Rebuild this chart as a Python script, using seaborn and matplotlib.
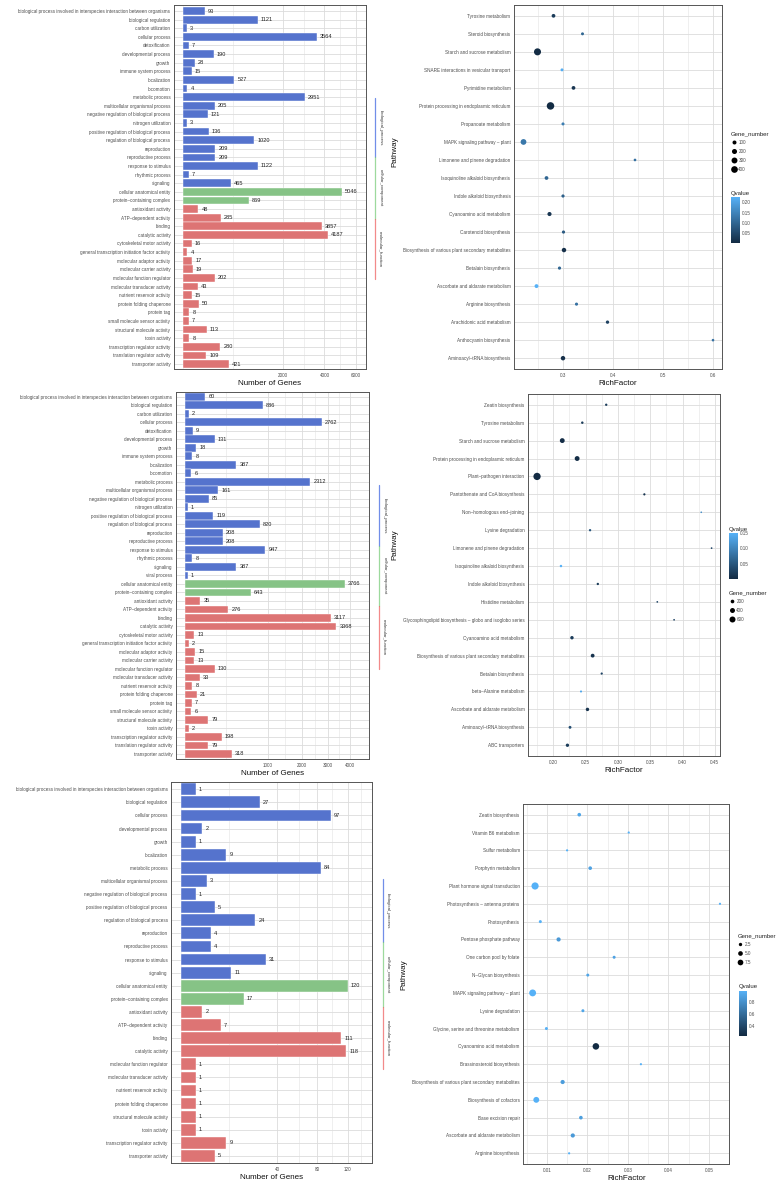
import numpy as np
import pandas as pd
import matplotlib
matplotlib.use("Agg")
import matplotlib.pyplot as plt
import seaborn as sns
from matplotlib.colors import LinearSegmentedColormap, Normalize
from matplotlib.cm import ScalarMappable
from matplotlib.lines import Line2D

W, H, DPI = 779, 1185, 100

# ---------------- GO term lists ----------------
BP_TERMS = [
    "biological process involved in interspecies interaction between organisms",
    "biological regulation", "carbon utilization", "cellular process", "detoxification",
    "developmental process", "growth", "immune system process", "localization", "locomotion",
    "metabolic process", "multicellular organismal process",
    "negative regulation of biological process", "nitrogen utilization",
    "positive regulation of biological process", "regulation of biological process",
    "reproduction", "reproductive process", "response to stimulus", "rhythmic process",
    "signaling", "viral process",
]
CC_TERMS = ["cellular anatomical entity", "protein–containing complex"]
MF_TERMS = [
    "antioxidant activity", "ATP–dependent activity", "binding", "catalytic activity",
    "cytoskeletal motor activity", "general transcription initiation factor activity",
    "molecular adaptor activity", "molecular carrier activity", "molecular function regulator",
    "molecular transducer activity", "nutrient reservoir activity", "protein folding chaperone",
    "protein tag", "small molecule sensor activity", "structural molecule activity",
    "toxin activity", "transcription regulator activity", "translation regulator activity",
    "transporter activity",
]

# GO panel 1
go1_terms = [t for t in BP_TERMS if t != "viral process"] + CC_TERMS + MF_TERMS
go1_counts = [93, 1121, 3, 3564, 7, 190, 28, 15, 527, 4, 2951, 205, 121, 3, 136, 1020,
              209, 209, 1122, 7, 465,
              5046, 869,
              48, 285, 3857, 4187, 16, 4, 17, 19, 202, 43, 15, 50, 8, 7, 113, 8, 280, 109, 421]

# GO panel 2
go2_terms = BP_TERMS + CC_TERMS + MF_TERMS
go2_counts = [60, 886, 2, 2762, 9, 131, 18, 8, 387, 6, 2312, 161, 85, 1, 119, 820,
              208, 208, 947, 8, 387, 1,
              3766, 643,
              35, 276, 3117, 3368, 13, 2, 15, 13, 130, 33, 8, 21, 7, 6, 79, 2, 198, 79, 318]

# GO panel 3
go3_terms = [
    "biological process involved in interspecies interaction between organisms",
    "biological regulation", "cellular process", "developmental process", "growth",
    "localization", "metabolic process", "multicellular organismal process",
    "negative regulation of biological process", "positive regulation of biological process",
    "regulation of biological process", "reproduction", "reproductive process",
    "response to stimulus", "signaling",
    "cellular anatomical entity", "protein–containing complex",
    "antioxidant activity", "ATP–dependent activity", "binding", "catalytic activity",
    "molecular function regulator", "molecular transducer activity",
    "nutrient reservoir activity", "protein folding chaperone", "structural molecule activity",
    "toxin activity", "transcription regulator activity", "transporter activity",
]
go3_counts = [1, 27, 97, 2, 1, 9, 84, 3, 1, 5, 24, 4, 4, 31, 11,
              120, 17,
              2, 7, 111, 118, 1, 1, 1, 1, 1, 1, 9, 5]

# ---------------- KEGG enrichment (top to bottom) ----------------
kegg1_pathway = [
    "Tyrosine metabolism", "Steroid biosynthesis", "Starch and sucrose metabolism",
    "SNARE interactions in vesicular transport", "Pyrimidine metabolism",
    "Protein processing in endoplasmic reticulum", "Propanoate metabolism",
    "MAPK signaling pathway – plant", "Limonene and pinene degradation",
    "Isoquinoline alkaloid biosynthesis", "Indole alkaloid biosynthesis",
    "Cyanoamino acid metabolism", "Carotenoid biosynthesis",
    "Biosynthesis of various plant secondary metabolites", "Betalain biosynthesis",
    "Ascorbate and aldarate metabolism", "Arginine biosynthesis",
    "Arachidonic acid metabolism", "Anthocyanin biosynthesis", "Aminoacyl–tRNA biosynthesis",
]
kegg1_rich = [0.281, 0.339, 0.249, 0.298, 0.321, 0.275, 0.300, 0.221, 0.444, 0.267,
              0.300, 0.273, 0.301, 0.302, 0.293, 0.247, 0.327, 0.389, 0.600, 0.300]
kegg1_genes = [80, 25, 450, 25, 80, 520, 30, 280, 8, 80, 40, 110, 40, 140, 40, 90, 35, 50, 5, 140]
kegg1_q = [0.03, 0.10, 0.002, 0.22, 0.02, 0.001, 0.14, 0.13, 0.12, 0.10,
           0.09, 0.02, 0.08, 0.01, 0.10, 0.227, 0.12, 0.04, 0.12, 0.01]

kegg2_pathway = [
    "Zeatin biosynthesis", "Tyrosine metabolism", "Starch and sucrose metabolism",
    "Protein processing in endoplasmic reticulum", "Plant–pathogen interaction",
    "Pantothenate and CoA biosynthesis", "Non–homologous end–joining", "Lysine degradation",
    "Limonene and pinene degradation", "Isoquinoline alkaloid biosynthesis",
    "Indole alkaloid biosynthesis", "Histidine metabolism",
    "Glycosphingolipid biosynthesis – globo and isoglobo series",
    "Cyanoamino acid metabolism", "Biosynthesis of various plant secondary metabolites",
    "Betalain biosynthesis", "beta–Alanine metabolism", "Ascorbate and aldarate metabolism",
    "Aminoacyl–tRNA biosynthesis", "ABC transporters",
]
kegg2_rich = [0.282, 0.245, 0.214, 0.237, 0.175, 0.341, 0.429, 0.257, 0.445, 0.212,
              0.269, 0.361, 0.387, 0.229, 0.261, 0.275, 0.243, 0.253, 0.226, 0.222]
kegg2_genes = [60, 70, 380, 380, 900, 50, 10, 60, 15, 70, 60, 15, 15, 170, 220, 50, 40, 170, 110, 160]
kegg2_q = [0.02, 0.02, 0.005, 0.004, 0.001, 0.01, 0.11, 0.05, 0.03, 0.15,
           0.02, 0.03, 0.03, 0.02, 0.01, 0.03, 0.14, 0.01, 0.04, 0.02]

kegg3_pathway = [
    "Zeatin biosynthesis", "Vitamin B6 metabolism", "Sulfur metabolism", "Porphyrin metabolism",
    "Plant hormone signal transduction", "Photosynthesis – antenna proteins", "Photosynthesis",
    "Pentose phosphate pathway", "One carbon pool by folate", "N–Glycan biosynthesis",
    "MAPK signaling pathway – plant", "Lysine degradation",
    "Glycine, serine and threonine metabolism", "Cyanoamino acid metabolism",
    "Brassinosteroid biosynthesis", "Biosynthesis of various plant secondary metabolites",
    "Biosynthesis of cofactors", "Base excision repair", "Ascorbate and aldarate metabolism",
    "Arginine biosynthesis",
]
kegg3_rich = [0.0180, 0.0302, 0.0150, 0.0207, 0.0071, 0.0527, 0.0084, 0.0129, 0.0266, 0.0201,
              0.0065, 0.0189, 0.0099, 0.0221, 0.0332, 0.0139, 0.0074, 0.0184, 0.0164, 0.0155]
kegg3_genes = [3, 1, 1, 3, 12, 1, 2, 4, 2, 2, 11, 2, 2, 10, 1, 4, 8, 3, 4, 1]
kegg3_q = [0.92, 0.98, 0.98, 0.90, 0.98, 0.98, 0.98, 0.85, 0.90, 0.92,
           0.98, 0.92, 0.98, 0.25, 0.98, 0.87, 0.98, 0.88, 0.85, 0.98]

# ---------------- style ----------------
sns.set_theme(style="white")
plt.rcParams["font.family"] = ["Liberation Sans", "DejaVu Sans"]

GO_COLORS = {"biological_process": "#4169E1", "cellular_component": "#7CCD7C",
             "molecular_function": "#EE6363"}
ONTOLOGIES = list(GO_COLORS)
Q_CMAP = LinearSegmentedColormap.from_list("gg_blues", ["#132B43", "#56B1F7"])
TXT = "#4D4D4D"
GRID = "#DCDCDC"


def ontology_of(term):
    if term in BP_TERMS:
        return "biological_process"
    if term in CC_TERMS:
        return "cellular_component"
    return "molecular_function"


def px_rect(x0, y0, x1, y1):
    return [x0 / W, 1 - y1 / H, (x1 - x0) / W, (y1 - y0) / H]


def sqrt_fwd(x):
    x = np.asarray(x, dtype=float)
    return np.sign(x) * np.sqrt(np.abs(x))


def sqrt_inv(x):
    x = np.asarray(x, dtype=float)
    return np.sign(x) * x ** 2


def style_panel(ax):
    for sp in ax.spines.values():
        sp.set_color("#555555")
        sp.set_linewidth(0.7)
    ax.tick_params(which="major", length=1.6, width=0.4, color="#333333",
                   labelsize=3.3, labelcolor=TXT, pad=1)
    ax.tick_params(which="minor", length=0)
    ax.grid(True, which="major", color=GRID, lw=0.6)
    ax.grid(True, which="minor", axis="x", color="#E4E4E4", lw=0.4)
    ax.set_axisbelow(True)


fig = plt.figure(figsize=(W / DPI, H / DPI), dpi=DPI)


def go_panel(terms, counts, box, xlim, xticks, xminor, pad_top, pad_bot, strip_x, strips):
    ax = fig.add_axes(px_rect(*box))
    df = pd.DataFrame({"term": terms, "count": counts,
                       "ontology": [ontology_of(t) for t in terms]})
    sns.barplot(data=df, x="count", y="term", hue="ontology", hue_order=ONTOLOGIES,
                palette=GO_COLORS, dodge=False, width=0.9, edgecolor="white",
                linewidth=0.3, legend=False, ax=ax)
    ax.set_xscale("function", functions=(sqrt_fwd, sqrt_inv))
    ax.set_xlim(*xlim)
    ax.set_ylim(len(terms) - 1 + pad_bot, -pad_top)
    ax.set_xticks(xticks)
    ax.set_xticks(xminor, minor=True)
    ax.set_xticklabels([str(t) for t in xticks])
    style_panel(ax)
    for cont in ax.containers:
        ax.bar_label(cont, fontsize=4.1, padding=2.2, color="#222222")
    ax.set_ylabel("")
    ax.set_xlabel("Number of Genes", fontsize=5.8, labelpad=1.5, color="#111111")
    # ontology strip on the right
    for name, y0, y1 in strips:
        fig.add_artist(Line2D([strip_x / W, strip_x / W], [1 - y0 / H, 1 - y1 / H],
                              color=GO_COLORS[name], alpha=0.75, lw=0.9))
        fig.text((strip_x + 5.5) / W, 1 - (y0 + y1) / 2 / H, name, rotation=270,
                 ha="center", va="center", fontsize=3.2, color="#333333")
    return ax


def kegg_panel(pathway, rich, genes, q, box, xlim, xticks, xminor, sizes, size_norm,
               size_values, size_labels, size_anchor, cbar_box, cbar_ticks, path_label_xy):
    ax = fig.add_axes(px_rect(*box))
    df = pd.DataFrame({"Pathway": pathway, "RichFactor": rich, "Gene_number": genes,
                       "Qvalue": q})
    q_norm = (min(q), max(q))
    sns.scatterplot(data=df, x="RichFactor", y="Pathway", hue="Qvalue", size="Gene_number",
                    palette=Q_CMAP, hue_norm=q_norm, sizes=sizes, size_norm=size_norm,
                    linewidth=0, legend=False, ax=ax, zorder=3)
    ax.set_xlim(*xlim)
    ax.set_ylim(len(pathway) - 0.4, -0.6)
    ax.set_xticks(xticks)
    ax.set_xticks(xminor, minor=True)
    ax.set_xticklabels([f"{t:.2f}".rstrip("0") if t >= 0.1 and len(xticks) < 5 else f"{t:.2f}"
                        for t in xticks])
    style_panel(ax)
    ax.set_ylabel("")
    ax.set_xlabel("RichFactor", fontsize=5.8, labelpad=1.5, color="#111111")
    fig.text(path_label_xy[0] / W, 1 - path_label_xy[1] / H, "Pathway", rotation=90,
             ha="center", va="center", fontsize=5.8, color="#111111")

    # size legend
    lo, hi = size_norm
    handles = [Line2D([], [], ls="", marker="o", color="black", markeredgewidth=0,
                      markersize=np.sqrt(sizes[0] + (v - lo) / (hi - lo) * (sizes[1] - sizes[0])))
               for v in size_values]
    leg = ax.legend(handles, size_labels, title="Gene_number", loc="upper left",
                    bbox_to_anchor=(size_anchor[0] / W, 1 - size_anchor[1] / H),
                    bbox_transform=fig.transFigure, frameon=False, fontsize=3.3,
                    title_fontsize=4.3, handlelength=1.2, handletextpad=0.4,
                    labelspacing=0.85, borderpad=0, borderaxespad=0)
    leg._legend_box.align = "left"
    for t in leg.get_texts():
        t.set_color(TXT)
    leg.get_title().set_color("#222222")

    # colour bar for Qvalue
    cax = fig.add_axes(px_rect(*cbar_box))
    cb = fig.colorbar(ScalarMappable(norm=Normalize(*q_norm), cmap=Q_CMAP), cax=cax)
    cb.outline.set_visible(False)
    cb.set_ticks(cbar_ticks)
    cb.ax.tick_params(length=1.8, width=0.4, color="white", direction="in",
                      labelsize=3.3, labelcolor=TXT, pad=1.5)
    fig.text(cbar_box[0] / W, 1 - (cbar_box[1] - 1.5) / H, "Qvalue", ha="left",
             va="bottom", fontsize=4.3, color="#222222")
    return ax


# ---------------- row 1 ----------------
go_panel(go1_terms, go1_counts, (174, 5, 366, 369), (-16, 6691),
         [2000, 4000, 6000], [0, 500, 2911, 4949], 0.70, 0.58, 375,
         [("biological_process", 98, 157), ("cellular_component", 157, 219),
          ("molecular_function", 219, 279)])
kegg_panel(kegg1_pathway, kegg1_rich, kegg1_genes, kegg1_q, (514, 5, 722, 369),
           (0.202, 0.618), [0.3, 0.4, 0.5, 0.6], [0.25, 0.35, 0.45, 0.55],
           (3.3, 3.3 + 0.0497 * 520), (0, 520), [100, 200, 300, 400],
           ["100", "200", "300", "400"],
           (731, 131), (731, 197, 740, 243), [0.05, 0.10, 0.15, 0.20], (395, 152))

# ---------------- row 2 ----------------
go_panel(go2_terms, go2_counts, (176, 392, 369, 759), (-11.9, 4970),
         [1000, 2000, 3000, 4000], [0, 250, 1457, 2474, 3482], 0.55, 0.59, 379,
         [("biological_process", 485, 546), ("cellular_component", 546, 606),
          ("molecular_function", 606, 669)])
kegg_panel(kegg2_pathway, kegg2_rich, kegg2_genes, kegg2_q, (528, 394, 720, 756),
           (0.161, 0.458), [0.20, 0.25, 0.30, 0.35, 0.40, 0.45],
           [0.175, 0.225, 0.275, 0.325, 0.375, 0.425],
           (1.1, 1.1 + 0.0293 * 900), (0, 900), [200, 400, 600], ["200", "400", "600"],
           (729, 590), (729, 533, 738, 579), [0.05, 0.10, 0.15], (395, 545))

# ---------------- row 3 ----------------
go_panel(go3_terms, go3_counts, (171.3, 781.7, 372.3, 1163.3), (-0.384, 157.8),
         [40, 80, 120], [0, 10, 60, 99, 139], 0.58, 0.56, 382.7,
         [("biological_process", 879, 942), ("cellular_component", 942, 1007),
          ("molecular_function", 1007, 1069)])
kegg_panel(kegg3_pathway, kegg3_rich, kegg3_genes, kegg3_q, (523.3, 804, 729.3, 1164),
           (0.0042, 0.055), [0.01, 0.02, 0.03, 0.04, 0.05],
           [0.005, 0.015, 0.025, 0.035, 0.045],
           (0.3, 0.3 + 2.2 * 12), (0, 12), [2.5, 5.0, 7.5], ["2.5", "5.0", "7.5"],
           (737.7, 933), (738.7, 990.7, 746.7, 1035.7), [0.4, 0.6, 0.8], (404, 975))

fig.savefig("out.png", dpi=DPI, facecolor="white")
